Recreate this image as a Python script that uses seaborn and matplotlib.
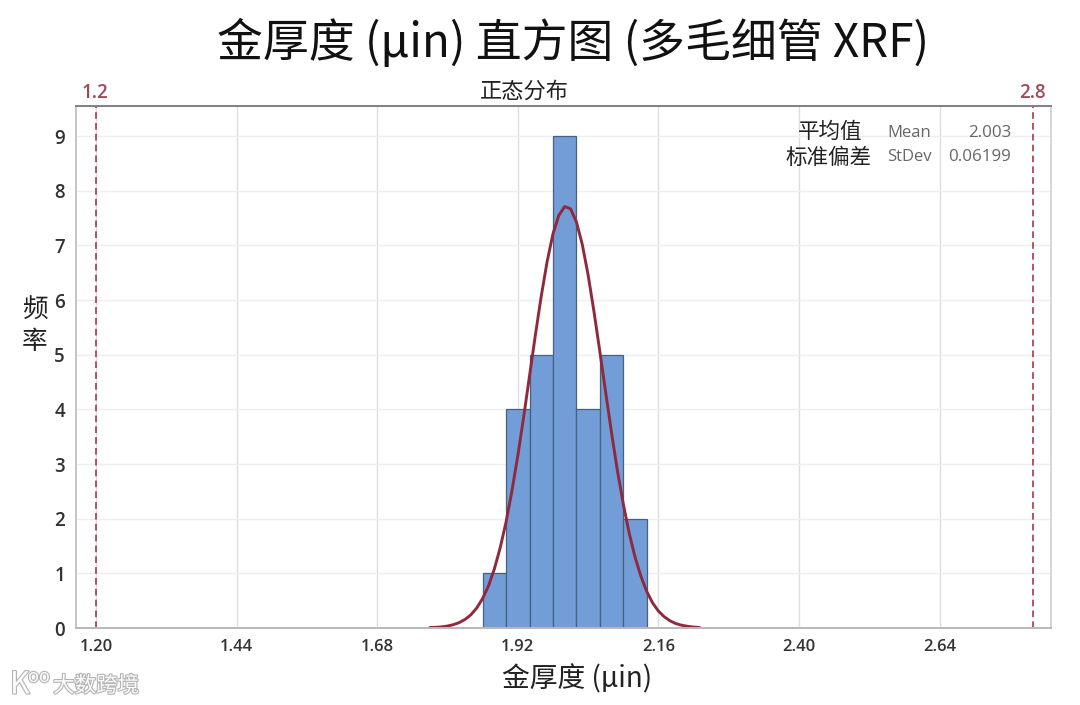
import seaborn as sns
import matplotlib.pyplot as plt
import matplotlib.patheffects as pe

# histogram
bin_edges = [1.86, 1.90, 1.94, 1.98, 2.02, 2.06, 2.10, 2.14]
bin_centers = [1.88, 1.92, 1.96, 2.00, 2.04, 2.08, 2.12]
counts = [1, 4, 5, 9, 4, 5, 2]

# fitted curve
curve_x = [1.77, 1.78, 1.79, 1.80, 1.81, 1.82, 1.83, 1.84, 1.85, 1.86, 1.87, 1.88,
           1.89, 1.90, 1.91, 1.92, 1.93, 1.94, 1.95, 1.96, 1.97, 1.98, 1.99, 2.00,
           2.01, 2.02, 2.03, 2.04, 2.05, 2.06, 2.07, 2.08, 2.09, 2.10, 2.11, 2.12,
           2.13, 2.14, 2.15, 2.16, 2.17, 2.18, 2.19, 2.20, 2.21, 2.22, 2.23]
curve_y = [0.01, 0.012, 0.021, 0.036, 0.061, 0.099, 0.157, 0.243, 0.367, 0.54, 0.77, 1.08,
           1.47, 1.94, 2.51, 3.15, 3.86, 4.61, 5.36, 6.07, 6.70, 7.21, 7.55, 7.71,
           7.67, 7.43, 7.02, 6.46, 5.79, 5.06, 4.31, 3.57, 2.88, 2.27, 1.74, 1.30,
           0.95, 0.67, 0.46, 0.31, 0.205, 0.13, 0.08, 0.05, 0.03, 0.017, 0.01]

spec_limits = [1.2, 2.8]
spec_labels = ['1.2', '2.8']
x_ticks = [1.20, 1.44, 1.68, 1.92, 2.16, 2.40, 2.64]
x_labels = ['1.20', '1.44', '1.68', '1.92', '2.16', '2.40', '2.64']
y_ticks = [0, 1, 2, 3, 4, 5, 6, 7, 8, 9]

W, H = 1080, 705

sns.set_theme(style='whitegrid')
plt.rcParams['font.family'] = ['Noto Sans CJK SC', 'DejaVu Sans']


def px_text(fig, x, y, s, **kw):
    # place text by pixel position of the 1080x705 canvas
    return fig.text(x / W, 1 - y / H, s, **kw)


fig = plt.figure(figsize=(W / 100, H / 100), dpi=100)
ax = fig.add_axes([76 / W, (H - 628) / H, 975 / W, 522 / H])

sns.histplot(x=bin_centers, weights=counts, bins=bin_edges, ax=ax,
             color='#739dd6', alpha=1, edgecolor='#46607f', linewidth=0.9)
sns.lineplot(x=curve_x, y=curve_y, ax=ax, color='#8f2a3e', linewidth=2.1)

for limit, label in zip(spec_limits, spec_labels):
    ax.axvline(limit, color='#a5384c', linestyle=(0, (4, 2.5)), linewidth=1.2)
    ax.text(limit - 0.002, 9.6, label, color='#a04a58', fontsize=13.5, ha='center', va='bottom',
            family='Open Sans', fontweight='semibold')

ax.set_xlim(1.166, 2.830)
ax.set_ylim(0, 9.55)
ax.set_xticks(x_ticks)
ax.set_xticklabels(x_labels)
ax.set_yticks(y_ticks)
ax.set_xlabel('')
ax.set_ylabel('')
ax.set_axisbelow(True)
ax.grid(axis='x', color='#dedede', linewidth=1)
ax.grid(axis='y', color='#eeeeee', linewidth=1)
ax.tick_params(axis='both', length=4, width=1, color='#bdbdbd', labelcolor='#333333',
               labelsize=12, pad=4)
ax.tick_params(axis='y', labelsize=13.5)
for lab in ax.get_xticklabels() + ax.get_yticklabels():
    lab.set_family('Open Sans')
    lab.set_fontweight('semibold')

ax.spines['top'].set_color('#808080')
ax.spines['top'].set_linewidth(1.4)
ax.spines['left'].set_color('#c4c4c4')
ax.spines['left'].set_linewidth(1.4)
ax.spines['bottom'].set_color('#b8b8b8')
ax.spines['bottom'].set_linewidth(1.4)
ax.spines['right'].set_color('#d0d0d0')
ax.spines['right'].set_linewidth(1.2)

px_text(fig, 573, 43, '金厚度 (µin) 直方图 (多毛细管 XRF)', fontsize=33, color='#111111',
        ha='center', va='center')
px_text(fig, 524, 91, '正态分布', fontsize=16, color='#222222', ha='center', va='center')
px_text(fig, 577, 679, '金厚度 (µin)', fontsize=20, color='#222222', ha='center', va='center')
px_text(fig, 35, 310, '频', fontsize=18.5, color='#222222', ha='center', va='center')
px_text(fig, 35, 342, '率', fontsize=18.5, color='#222222', ha='center', va='center')

px_text(fig, 862, 132, '平均值', fontsize=15.5, color='#222222', ha='right', va='center')
px_text(fig, 872, 158, '标准偏差', fontsize=15.5, color='#222222', ha='right', va='center')
px_text(fig, 887, 133, 'Mean', fontsize=12, color='#666666', ha='left', va='center',
        family='Open Sans')
px_text(fig, 887, 157, 'StDev', fontsize=12, color='#666666', ha='left', va='center',
        family='Open Sans')
px_text(fig, 1011, 133, '2.003', fontsize=12.2, color='#666666', ha='right', va='center',
        family='Open Sans')
px_text(fig, 1011, 157, '0.06199', fontsize=12.2, color='#666666', ha='right', va='center',
        family='Open Sans')

# watermark bottom left
halo = [pe.withStroke(linewidth=1.6, foreground='#b4b4b4')]
px_text(fig, 53, 686, '大数跨境', fontsize=15.5, color='#fafafa', ha='left', va='center',
        path_effects=halo)
px_text(fig, 10, 685, 'K', fontsize=22, color='#fafafa', ha='left', va='center', path_effects=halo)
px_text(fig, 28, 677, 'oo', fontsize=13, color='#fafafa', ha='left', va='center', path_effects=halo)

fig.savefig('out.png', dpi=100)
plt.close(fig)
